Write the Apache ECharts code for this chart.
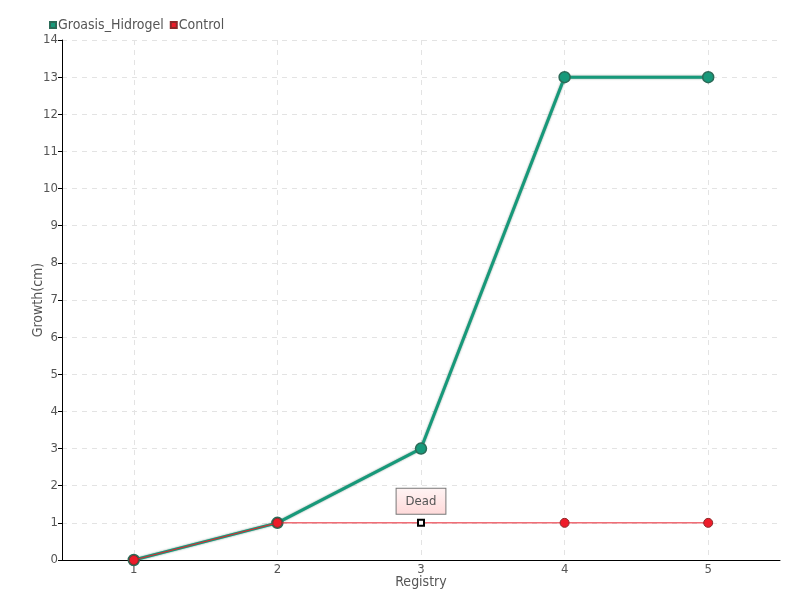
<!DOCTYPE html>
<html>
<head>
<meta charset="utf-8">
<script src="https://cdn.jsdelivr.net/npm/echarts@6/dist/echarts.min.js"></script>
<style>
  html, body { margin: 0; padding: 0; background: #fff; }
  #chart { width: 800px; height: 600px; }
</style>
</head>
<body>
<div id="chart"></div>
<script>
const registry = ["1", "2", "3", "4", "5"];
const groasisHidrogel = [0, 1, 3, 13, 13];
const control = [0, 1, 1, 1, 1];
const deadIndex = 2; // control plant marked dead at registry 3

const font = "'DejaVu Sans Condensed', 'DejaVu Sans', sans-serif";
const textColor = "#555";

const controlData = control.map((v, i) => {
  if (i !== deadIndex) return v;
  return {
    value: v,
    symbol: "rect",
    symbolSize: 6,
    itemStyle: { color: "#fff", borderColor: "#000", borderWidth: 2 },
    label: {
      show: true,
      position: "top",
      distance: 5,
      formatter: "Dead",
      fontFamily: font,
      fontSize: 13,
      color: "#555",
      padding: [6, 9],
      borderColor: "#777",
      borderWidth: 1,
      backgroundColor: {
        type: "linear", x: 0, y: 0, x2: 0, y2: 1,
        colorStops: [{ offset: 0, color: "#fff4f4" }, { offset: 1, color: "#ffd9d9" }]
      }
    }
  };
});

const chart = echarts.init(document.getElementById("chart"));
chart.setOption({
  animation: false,
  textStyle: { fontFamily: font },
  legend: {
    left: 44,
    top: 13,
    itemWidth: 6,
    itemHeight: 6,
    itemGap: 6,
    icon: "rect",
    textStyle: { fontFamily: font, fontSize: 14, color: textColor, padding: [0, 0, 0, -3] },
    data: ["Groasis_Hidrogel", "Control"]
  },
  grid: { left: 62, right: 20, top: 40, bottom: 40 },
  xAxis: {
    type: "category",
    data: registry,
    boundaryGap: true,
    name: "Registry",
    nameLocation: "middle",
    nameGap: 15,
    nameMoveOverlap: false,
    nameTextStyle: { fontFamily: font, fontSize: 14, color: textColor },
    axisLine: { lineStyle: { color: "#000" } },
    axisTick: { alignWithLabel: true, length: 5, lineStyle: { color: "#000" } },
    axisLabel: { fontFamily: font, fontSize: 13, color: textColor, margin: 3 },
    splitLine: { show: true, alignWithLabel: true, lineStyle: { color: "#e3e3e3", type: [5, 5] } }
  },
  yAxis: {
    type: "value",
    min: 0,
    max: 14,
    interval: 1,
    name: "Growth(cm)",
    nameLocation: "middle",
    nameGap: 17,
    nameMoveOverlap: false,
    nameTextStyle: { fontFamily: font, fontSize: 14, color: textColor },
    axisLine: { show: true, lineStyle: { color: "#000" } },
    axisTick: { show: true, length: 4, lineStyle: { color: "#000" } },
    axisLabel: { fontFamily: font, fontSize: 13, color: textColor, margin: 4 },
    splitLine: { show: true, lineStyle: { color: "#e3e3e3", type: [5, 5] } }
  },
  series: [
    {
      name: "Groasis_Hidrogel",
      type: "line",
      data: groasisHidrogel,
      symbol: "circle",
      symbolSize: 11,
      color: "#17997a",
      lineStyle: { width: 3, color: "#17997a", shadowColor: "rgba(0,60,40,0.5)", shadowBlur: 2 },
      itemStyle: { color: "#17997a", borderColor: "#2c6b58", borderWidth: 1.5 },
      z: 2
    },
    {
      name: "Control",
      type: "line",
      data: controlData,
      symbol: "circle",
      symbolSize: 9,
      color: "#ee1c2a",
      lineStyle: { width: 1, color: "#e8212e" },
      itemStyle: { color: "#ee1c2a", borderColor: "#8a2a2a", borderWidth: 1 },
      z: 3
    }
  ]
});
</script>
</body>
</html>
